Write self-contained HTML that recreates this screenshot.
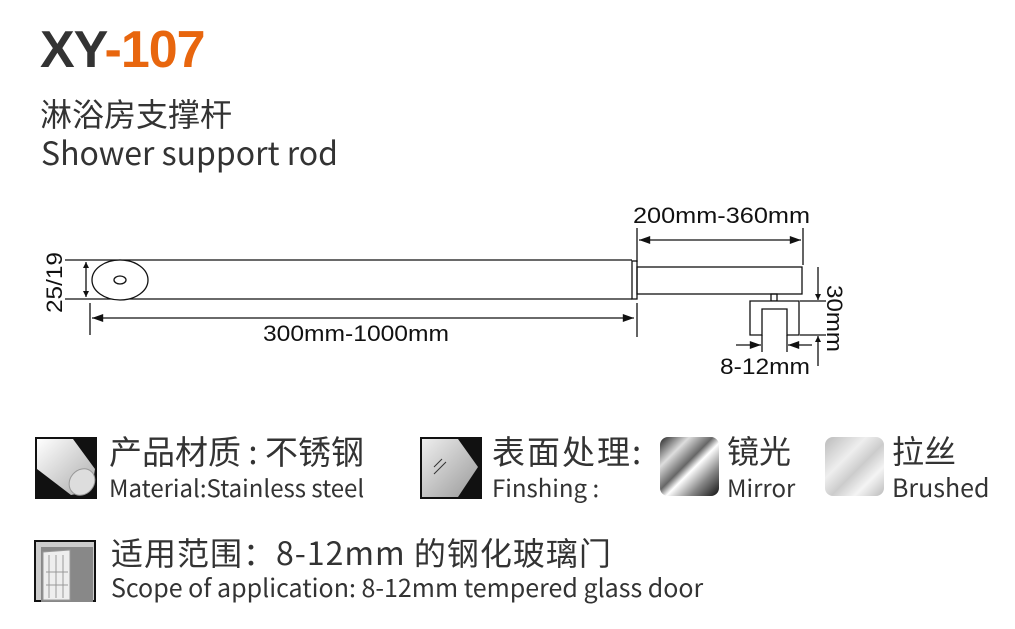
<!DOCTYPE html>
<html><head><meta charset="utf-8"><style>
body{margin:0;width:1015px;height:629px;background:#fff;position:relative;overflow:hidden;font-family:"Liberation Sans","Noto Sans CJK SC",sans-serif;color:#333}
.a{position:absolute;white-space:nowrap;line-height:1}
.cn{font-family:"Noto Sans CJK SC","Liberation Sans",sans-serif}
</style></head><body>
<div class="a" style="left:40px;top:24px;font-size:52px;font-weight:bold;color:#333;letter-spacing:-1px">XY<span style="color:#e8660e">-107</span></div>
<div class="a cn" style="left:40px;top:97px;font-size:32px;color:#333">淋浴房支撑杆</div>
<div class="a cn" style="left:41px;top:136px;font-size:32px;color:#333">Shower support rod</div>

<svg class="a" style="left:0;top:0" width="1015" height="400" viewBox="0 0 1015 400">
<defs>
<marker id="ar" viewBox="0 0 10 10" refX="10" refY="5" markerWidth="10" markerHeight="6" markerUnits="userSpaceOnUse" orient="auto-start-reverse"><path d="M0,0L10,5L0,10z" fill="#111"/></marker>
<marker id="al" viewBox="0 0 14 10" refX="14" refY="5" markerWidth="16" markerHeight="8" markerUnits="userSpaceOnUse" orient="auto-start-reverse"><path d="M0,0L14,5L0,10z" fill="#111"/></marker>
</defs>
<g stroke="#111" stroke-width="1.3" fill="none">
<line x1="65" y1="260" x2="632" y2="260"/>
<line x1="65" y1="299" x2="632" y2="299"/>
<ellipse cx="120" cy="280" rx="28" ry="20" fill="#fff"/>
<ellipse cx="120" cy="280" rx="6" ry="4"/>
<line x1="86" y1="262" x2="86" y2="297" marker-start="url(#ar)" marker-end="url(#ar)"/>
<line x1="90" y1="303" x2="90" y2="335"/>
<line x1="92" y1="318" x2="634" y2="318" marker-start="url(#al)" marker-end="url(#al)"/>
<line x1="637" y1="303" x2="637" y2="337"/>
<rect x="632" y="261" width="5" height="38"/>
<rect x="637" y="267" width="165" height="27"/>
<line x1="637" y1="228" x2="637" y2="262"/>
<line x1="803" y1="228" x2="803" y2="265"/>
<line x1="639" y1="240" x2="801" y2="240" marker-start="url(#al)" marker-end="url(#al)"/>
<rect x="771" y="294" width="6" height="7"/>
<path d="M750,335V301H799V335H787V309H762V335Z" fill="#fff"/>
<line x1="800" y1="301" x2="826" y2="301"/>
<line x1="800" y1="335" x2="826" y2="335"/>
<line x1="818" y1="267" x2="818" y2="300" marker-end="url(#ar)"/>
<line x1="818" y1="366" x2="818" y2="336" marker-end="url(#ar)"/>
<line x1="762" y1="335" x2="762" y2="352"/>
<line x1="787" y1="335" x2="787" y2="352"/>
<line x1="736" y1="345" x2="761" y2="345" marker-end="url(#al)"/>
<line x1="812" y1="345" x2="788" y2="345" marker-end="url(#al)"/>
</g>
<g font-family="Liberation Sans, sans-serif" font-size="22" fill="#111">
<text x="263" y="341" textLength="186" lengthAdjust="spacingAndGlyphs">300mm-1000mm</text>
<text x="633" y="223" textLength="177" lengthAdjust="spacingAndGlyphs">200mm-360mm</text>
<text x="720" y="374" textLength="90" lengthAdjust="spacingAndGlyphs">8-12mm</text>
<text transform="translate(62,313) rotate(-90)" textLength="61" lengthAdjust="spacingAndGlyphs">25/19</text>
<text transform="translate(827,285) rotate(90)" textLength="67" lengthAdjust="spacingAndGlyphs">30mm</text>
</g>
</svg>

<svg class="a" style="left:35px;top:437px" width="62" height="62"><rect width="62" height="62" fill="#111"/><defs><linearGradient id="g1" x1="0" y1="0" x2="1" y2="1"><stop offset="0" stop-color="#fff"/><stop offset="1" stop-color="#aaa"/></linearGradient></defs><path d="M2,2H38L60,32Q58,55 36,58L2,32Z" fill="url(#g1)"/><ellipse cx="47" cy="45" rx="12" ry="14" transform="rotate(40 47 45)" fill="#ddd" stroke="#999"/></svg>
<div class="a cn" style="left:109px;top:434px;font-size:33px">产品材质 : 不锈钢</div>
<div class="a cn" style="left:109px;top:475px;font-size:24px">Material:Stainless steel</div>

<svg class="a" style="left:420px;top:437px" width="62" height="62"><rect width="62" height="62" fill="#111"/><defs><linearGradient id="g2" x1="0" y1="0" x2="1" y2="1"><stop offset="0" stop-color="#eee"/><stop offset="1" stop-color="#999"/></linearGradient></defs><path d="M2,2H38L58,30L38,60H2Z" fill="url(#g2)"/><path d="M14,30L22,22M14,37L26,25" stroke="#333" stroke-width="1"/></svg>
<div class="a cn" style="left:492px;top:434px;font-size:33px;letter-spacing:2px">表面处理:</div>
<div class="a cn" style="left:492px;top:475px;font-size:24px">Finshing :</div>

<div class="a" style="left:660px;top:437px;width:59px;height:59px;border-radius:8px;background:linear-gradient(135deg,#222 0%,#ddd 25%,#666 45%,#fff 55%,#888 75%,#111 100%)"></div>
<div class="a cn" style="left:727px;top:434px;font-size:32px">镜光</div>
<div class="a cn" style="left:727px;top:475px;font-size:24px">Mirror</div>
<div class="a" style="left:825px;top:437px;width:59px;height:59px;border-radius:8px;background:linear-gradient(135deg,#bbb 0%,#eee 35%,#ccc 55%,#f4f4f4 75%,#bbb 100%)"></div>
<div class="a cn" style="left:892px;top:434px;font-size:32px">拉丝</div>
<div class="a cn" style="left:892px;top:475px;font-size:25px">Brushed</div>

<svg class="a" style="left:34px;top:540px" width="62" height="62"><rect width="62" height="62" fill="#111"/><rect x="2" y="2" width="58" height="58" fill="#ccc"/><rect x="7" y="7" width="52" height="55" fill="#888"/><path d="M9,12L36,10V60L9,60Z" fill="#eee" stroke="#999"/><path d="M15,15V58M22,15V58M29,15V58M12,32H34M12,45H34" stroke="#999" stroke-width="1"/></svg>
<div class="a cn" style="left:111px;top:536px;font-size:32px;letter-spacing:1px">适用范围：8-12mm 的钢化玻璃门</div>
<div class="a cn" style="left:111px;top:575px;font-size:25px">Scope of application: 8-12mm tempered glass door</div>
</body></html>
